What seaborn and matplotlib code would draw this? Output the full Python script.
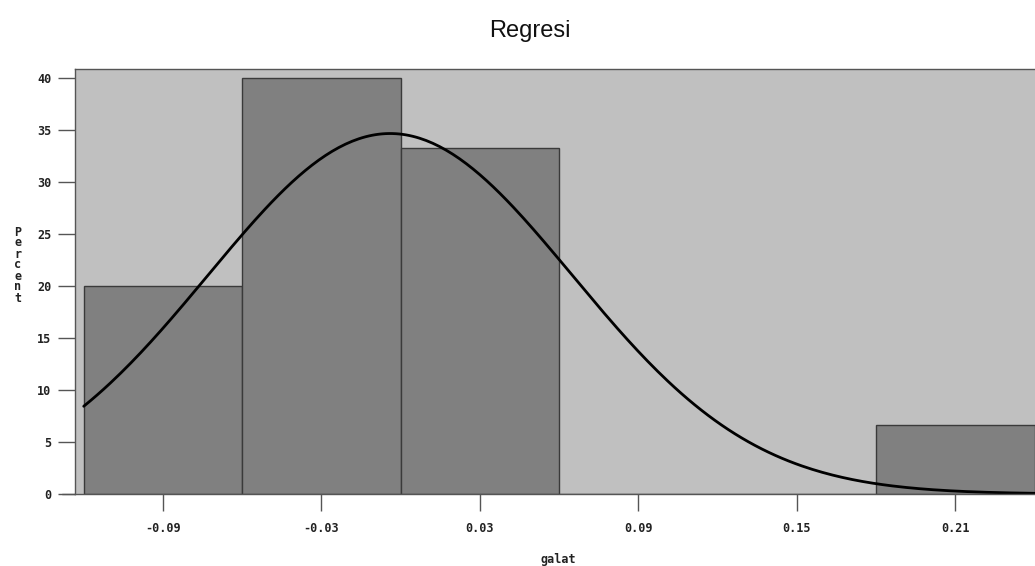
import matplotlib
matplotlib.use("Agg")
import matplotlib.pyplot as plt
import numpy as np
import seaborn as sns

# histogram of residuals (galat), percent per bin
midpoints = [-0.09, -0.03, 0.03, 0.09, 0.15, 0.21]
percents = [20.0, 40.0, 33.33, 0.0, 0.0, 6.67]
bin_width = 0.06
xticks = [-0.09, -0.03, 0.03, 0.09, 0.15, 0.21]
xtick_labels = ["-0.09", "-0.03", "0.03", "0.09", "0.15", "0.21"]
yticks = [0, 5, 10, 15, 20, 25, 30, 35, 40]

# fitted normal curve parameters
mu = -0.004
sigma = 0.069

sns.set_style("ticks")
plt.rcParams["font.family"] = ["DejaVu Sans"]

W, H = 1035, 566
fig = plt.figure(figsize=(W / 100, H / 100), dpi=100)
ax = fig.add_axes([75 / W, (H - 494) / H, (W - 75 + 3) / W, (494 - 69) / H])
ax.set_facecolor("#c0c0c0")

edges = [m - bin_width / 2 for m in midpoints] + [midpoints[-1] + bin_width / 2]
sns.histplot(x=midpoints, weights=percents, bins=edges, stat="count",
             color="#808080", alpha=1.0, edgecolor="#3a3a3a", linewidth=1.0, ax=ax)

xs = np.linspace(edges[0], 0.26, 300)
ys = 100 * bin_width * np.exp(-0.5 * ((xs - mu) / sigma) ** 2) / (sigma * np.sqrt(2 * np.pi))
sns.lineplot(x=xs, y=ys, color="black", linewidth=2.0, ax=ax)

ax.set_xlim(-0.1233, 0.2413)
ax.set_ylim(0, 40.9)
ax.set_xticks(xticks)
ax.set_xticklabels(xtick_labels)
ax.set_yticks(yticks)
ax.set_yticklabels([str(t) for t in yticks])

tick_font = dict(family="DejaVu Sans Mono", weight="bold", size=8.5)
for lab in ax.get_xticklabels() + ax.get_yticklabels():
    lab.set_fontfamily(tick_font["family"])
    lab.set_fontweight(tick_font["weight"])
    lab.set_fontsize(tick_font["size"])
    lab.set_color("#222222")

ax.tick_params(axis="both", direction="out", length=12, width=1.0, color="#555555")
ax.tick_params(axis="x", pad=8)
ax.tick_params(axis="y", pad=5)
for side, sp in ax.spines.items():
    sp.set_color("#555555")
    sp.set_linewidth(1.0)
    sp.set_visible(True)

# baseline extends a little to the left of the frame
ax.plot([-0.013, 0], [0, 0], transform=ax.transAxes, color="#555555", lw=1.0, clip_on=False)

ax.set_xlabel("")
ax.set_ylabel("")
fig.text(558 / W, 1 - 559 / H, "galat", ha="center", va="center", **tick_font, color="#222222")
fig.text(18 / W, 1 - 265 / H, "\n".join("Percent"), ha="center", va="center",
         linespacing=0.8, **tick_font, color="#222222")
fig.text(530 / W, 1 - 37 / H, "Regresi", ha="center", va="baseline",
         family=["Liberation Sans", "DejaVu Sans"], size=17, color="#111111")

fig.savefig("out.png", dpi=100)
plt.close(fig)
